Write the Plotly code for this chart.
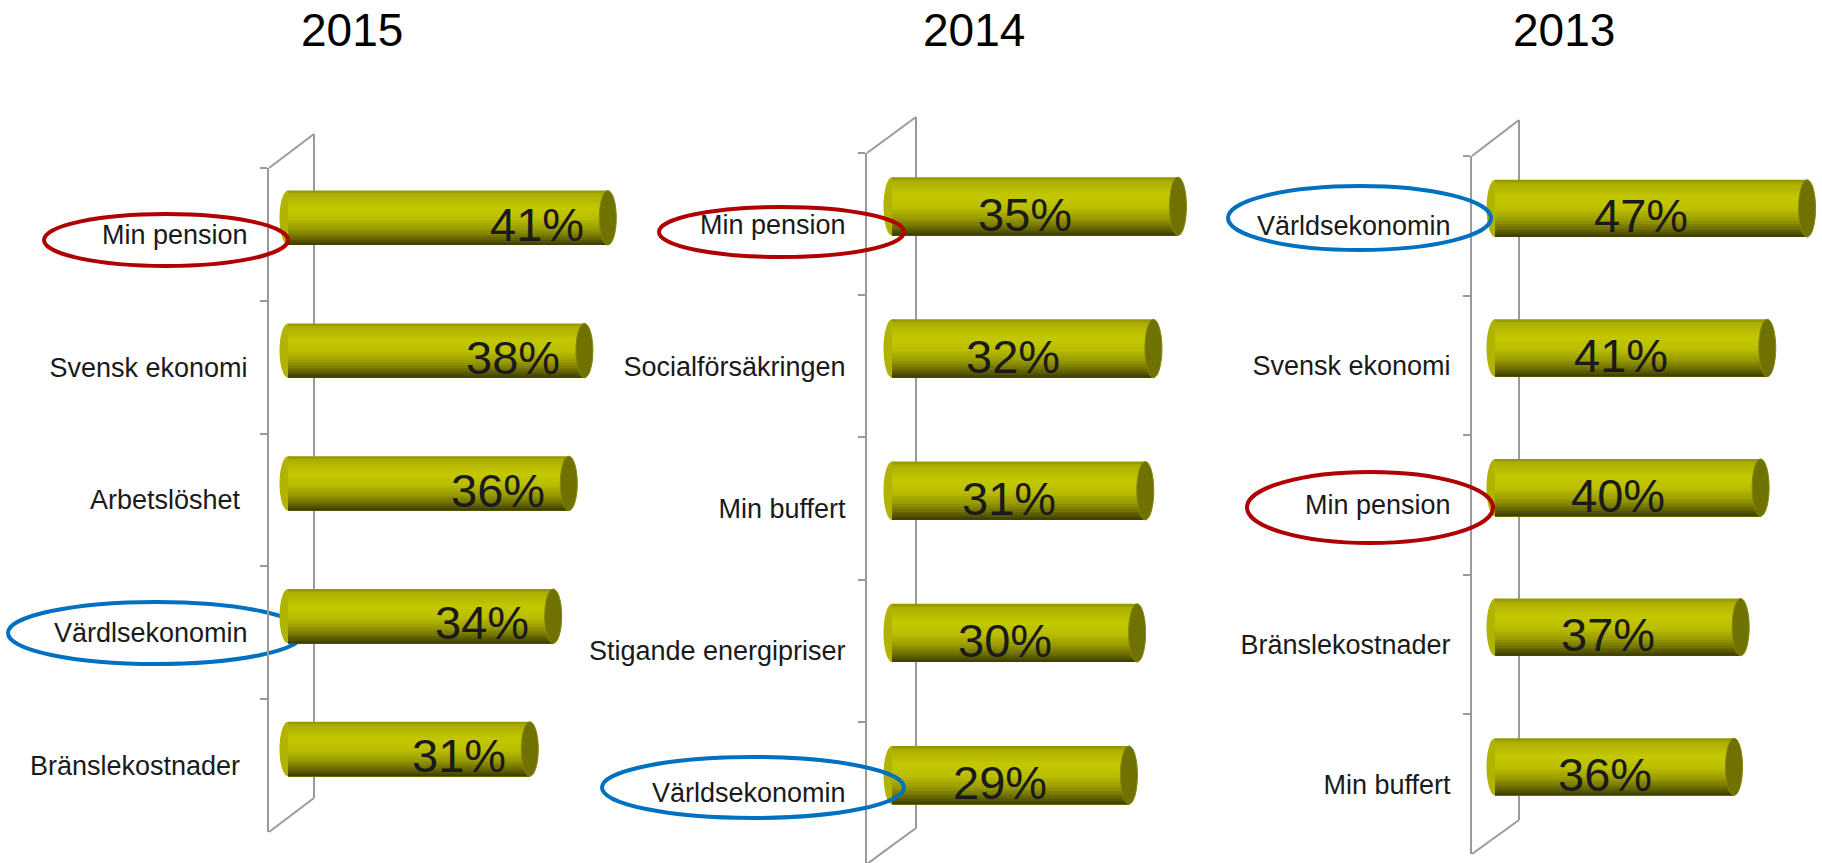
import plotly.graph_objects as go

# ---------------- data ----------------
years = ["2015", "2014", "2013"]

cats_2015 = ["Min pension", "Svensk ekonomi", "Arbetslöshet\u00a0", "Värdlsekonomin", "Bränslekostnader\u00a0"]
vals_2015 = [41, 38, 36, 34, 31]

cats_2014 = ["Min pension", "Socialförsäkringen", "Min buffert", "Stigande energipriser", "Världsekonomin"]
vals_2014 = [35, 32, 31, 30, 29]

cats_2013 = ["Världsekonomin", "Svensk ekonomi", "Min pension", "Bränslekostnader", "Min buffert"]
vals_2013 = [47, 41, 40, 37, 36]

# highlighted labels: (panel index, category index, colour)
highlights = [(0, 0, "red"), (0, 3, "blue"), (1, 0, "red"), (1, 4, "blue"), (2, 0, "blue"), (2, 2, "red")]

# ---------------- layout geometry (pixels) ----------------
W, H = 1822, 863
FONT = "Liberation Sans, Arial, sans-serif"
panels = [
    dict(x0=269, x1=650, y0=168, y1=832, zero=288, ppu=7.8, back=314, btop=134, bbot=798, tx=352, mode="end"),
    dict(x0=867, x1=1250, y0=153, y1=864, zero=892, ppu=8.17, back=916, btop=117, bbot=828, tx=974, mode="middle"),
    dict(x0=1472, x1=1822, y0=156, y1=854, zero=1495, ppu=6.64, back=1519, btop=120, bbot=820, tx=1564, mode="middle"),
]
# ellipse boxes around highlighted labels (px): x0, x1, y0, y1, layer
ellipse_boxes = {
    (0, 0): (44, 288, 214, 266, "above"),
    (0, 3): (8, 304, 602, 664, "below"),
    (1, 0): (659, 904, 207, 257, "above"),
    (1, 4): (602, 904, 757, 818, "above"),
    (2, 0): (1228, 1491, 186, 250, "above"),
    (2, 2): (1247, 1493, 472, 543, "above"),
}
ELL_COL = {"red": "#B00000", "blue": "#0070C0"}

BW = 0.41      # bar thickness (category units)
OFF = -0.33    # bar offset (shifted up: "3D" depth)
N = 22         # gradient stripes
CAP_PX = 8.5

stops = [(0.00, (140, 142, 0)), (0.07, (172, 175, 0)), (0.32, (196, 200, 0)),
         (0.52, (186, 190, 0)), (0.72, (150, 152, 0)), (0.87, (105, 106, 0)), (1.00, (58, 58, 4))]


def grad(t):
    for (a, ca), (b, cb) in zip(stops[:-1], stops[1:]):
        if a <= t <= b:
            f = (t - a) / (b - a)
            c = [round(ca[j] + (cb[j] - ca[j]) * f) for j in range(3)]
            return "rgb(%d,%d,%d)" % tuple(c)
    return "rgb(%d,%d,%d)" % stops[-1][1]


fig = go.Figure()
shapes = []
annotations = []
data = [(cats_2015, vals_2015), (cats_2014, vals_2014), (cats_2013, vals_2013)]
layout_axes = {}

for p, ((cats, vals), g) in enumerate(zip(data, panels)):
    sfx = "" if p == 0 else str(p + 1)
    xa, ya = "x" + sfx, "y" + sfx
    # bars as stacked gradient stripes
    for k in range(N):
        fig.add_trace(go.Bar(
            x=vals, y=cats, orientation="h", xaxis=xa, yaxis=ya,
            width=BW * (N - k) / N, offset=OFF + BW * k / N,
            marker=dict(color=grad((k + 0.5) / N), line=dict(width=0)),
            hoverinfo="skip", showlegend=False))

    cat_px = (g["y1"] - g["y0"]) / 5.0
    ybot = min(g["y1"], H)
    yrange = [-0.5 + (ybot - g["y0"]) / cat_px, -0.5]
    xrange = [(g["x0"] - g["zero"]) / g["ppu"], (g["x1"] - g["zero"]) / g["ppu"]]
    layout_axes["xaxis" + sfx] = dict(domain=[g["x0"] / W, g["x1"] / W], range=xrange, visible=False,
                                      anchor=ya, fixedrange=True)
    layout_axes["yaxis" + sfx] = dict(domain=[1 - ybot / H, 1 - g["y0"] / H], range=yrange, type="category",
                                      categoryorder="array", categoryarray=cats, anchor=xa,
                                      showline=True, linecolor="#9a9a9a", linewidth=2,
                                      ticks="outside", tickson="boundaries", ticklen=7, tickwidth=2,
                                      tickcolor="#9a9a9a", showgrid=False, zeroline=False,
                                      ticklabelstandoff=14,
                                      tickfont=dict(family=FONT, size=27, color="#1a1a1a"), fixedrange=True)

    # 3D wall lines (back wall + diagonals)
    wl = dict(color="#9a9a9a", width=2)
    shapes.append(dict(type="line", xref="paper", yref="paper", x0=g["back"] / W, x1=g["back"] / W,
                       y0=1 - g["btop"] / H, y1=1 - g["bbot"] / H, line=wl, layer="below"))
    shapes.append(dict(type="line", xref="paper", yref="paper", x0=g["x0"] / W, x1=g["back"] / W,
                       y0=1 - g["y0"] / H, y1=1 - g["btop"] / H, line=wl, layer="below"))
    shapes.append(dict(type="line", xref="paper", yref="paper", x0=g["x0"] / W, x1=g["back"] / W,
                       y0=1 - g["y1"] / H, y1=1 - g["bbot"] / H, line=wl, layer="below"))

    hw = CAP_PX / g["ppu"]
    for i, v in enumerate(vals):
        # rounded left end
        shapes.append(dict(type="circle", xref=xa, yref=ya, x0=-hw, x1=hw, y0=i + OFF, y1=i + OFF + BW,
                           fillcolor="rgb(176,179,0)", line=dict(width=0), layer="below"))
        # right cap
        shapes.append(dict(type="circle", xref=xa, yref=ya, x0=v - hw, x1=v + hw, y0=i + OFF, y1=i + OFF + BW,
                           fillcolor="#6f7100", line=dict(color="#86880a", width=1), layer="above"))
        # value label
        if g["mode"] == "end":
            annotations.append(dict(x=v, y=cats[i], xref=xa, yref=ya, text=f"{v}%", showarrow=False,
                                    xanchor="right", yanchor="middle", xshift=-22, yshift=10,
                                    font=dict(family=FONT, size=47, color="#1a1a1a")))
        else:
            annotations.append(dict(x=v / 2, y=cats[i], xref=xa, yref=ya, text=f"{v}%", showarrow=False,
                                    xanchor="center", yanchor="middle", xshift=-10, yshift=10,
                                    font=dict(family=FONT, size=47, color="#1a1a1a")))

    annotations.append(dict(x=g["tx"] / W, y=1 - 30 / H, xref="paper", yref="paper", text=years[p],
                            showarrow=False, xanchor="center", yanchor="middle",
                            font=dict(family=FONT, size=46, color="#000000")))

for (p, i, col) in highlights:
    x0, x1, y0, y1, layer = ellipse_boxes[(p, i)]
    shapes.append(dict(type="circle", xref="paper", yref="paper", x0=x0 / W, x1=x1 / W,
                       y0=1 - y1 / H, y1=1 - y0 / H, line=dict(color=ELL_COL[col], width=4),
                       fillcolor="rgba(0,0,0,0)", layer=layer))

fig.update_layout(
    width=W, height=H, autosize=False,
    margin=dict(l=0, r=0, t=0, b=0, pad=0),
    paper_bgcolor="white", plot_bgcolor="rgba(0,0,0,0)",
    barmode="overlay", showlegend=False,
    shapes=shapes, annotations=annotations,
    font=dict(family=FONT),
    **layout_axes,
)

fig.write_html("out.html", config={"displayModeBar": False},
               post_script="document.body.style.margin='0';document.body.style.overflow='hidden';")
